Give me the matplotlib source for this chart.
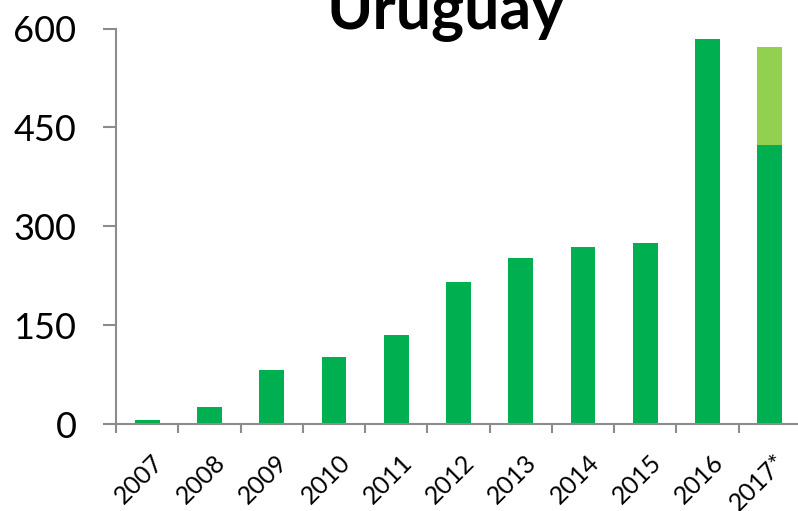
import numpy as np
import matplotlib
matplotlib.use("Agg")
import matplotlib.pyplot as plt
from matplotlib.transforms import ScaledTranslation

plt.rcParams["font.family"] = ["Lato", "DejaVu Sans"]

years = ["2007", "2008", "2009", "2010", "2011", "2012", "2013", "2014", "2015", "2016", "2017*"]
base = [6, 26, 82, 102, 135, 215, 252, 269, 275, 584, 423]
extra = [0, 0, 0, 0, 0, 0, 0, 0, 0, 0, 149]
yticks = [0, 150, 300, 450, 600]

dark = "#00B050"
light = "#92D050"
axis_c = "#8C8C8C"

fig = plt.figure(figsize=(7.98, 5.11), dpi=100)
ax = fig.add_axes([116 / 798, 1 - 424 / 511, 685 / 798, (424 - 28.5) / 511])

x = np.arange(len(years))
ax.bar(x, base, width=0.4, color=dark, zorder=2)
ax.bar(x, extra, width=0.4, bottom=base, color=light, zorder=2)

ax.set_xlim(-0.5, len(years) - 0.5)
ax.set_ylim(0, 600)
ax.set_yticks(yticks)
ax.set_yticklabels([str(v) for v in yticks], fontsize=26)
ax.tick_params(axis="y", length=9.5, width=1.5, color=axis_c, pad=19)

ax.set_xticks(x)
ax.set_xticklabels(years, fontsize=18, rotation=45, ha="right", va="top",
                   rotation_mode="anchor")
ax.tick_params(axis="x", which="major", length=0, pad=19)
ax.set_xticks(np.arange(-0.5, len(years), 1), minor=True)
ax.tick_params(axis="x", which="minor", length=6.5, width=1.5, color=axis_c)
shift = ScaledTranslation(4 / 100, 0, fig.dpi_scale_trans)
for lab in ax.get_xticklabels():
    lab.set_transform(lab.get_transform() + shift)

for s in ["top", "right"]:
    ax.spines[s].set_visible(False)
for s in ["left", "bottom"]:
    ax.spines[s].set_color(axis_c)
    ax.spines[s].set_linewidth(1.5)

fig.text(446 / 798, 1 - 28 / 511, "Uruguay", fontsize=45, fontweight="bold",
         ha="center", va="baseline")

fig.savefig("out.png", dpi=100)
